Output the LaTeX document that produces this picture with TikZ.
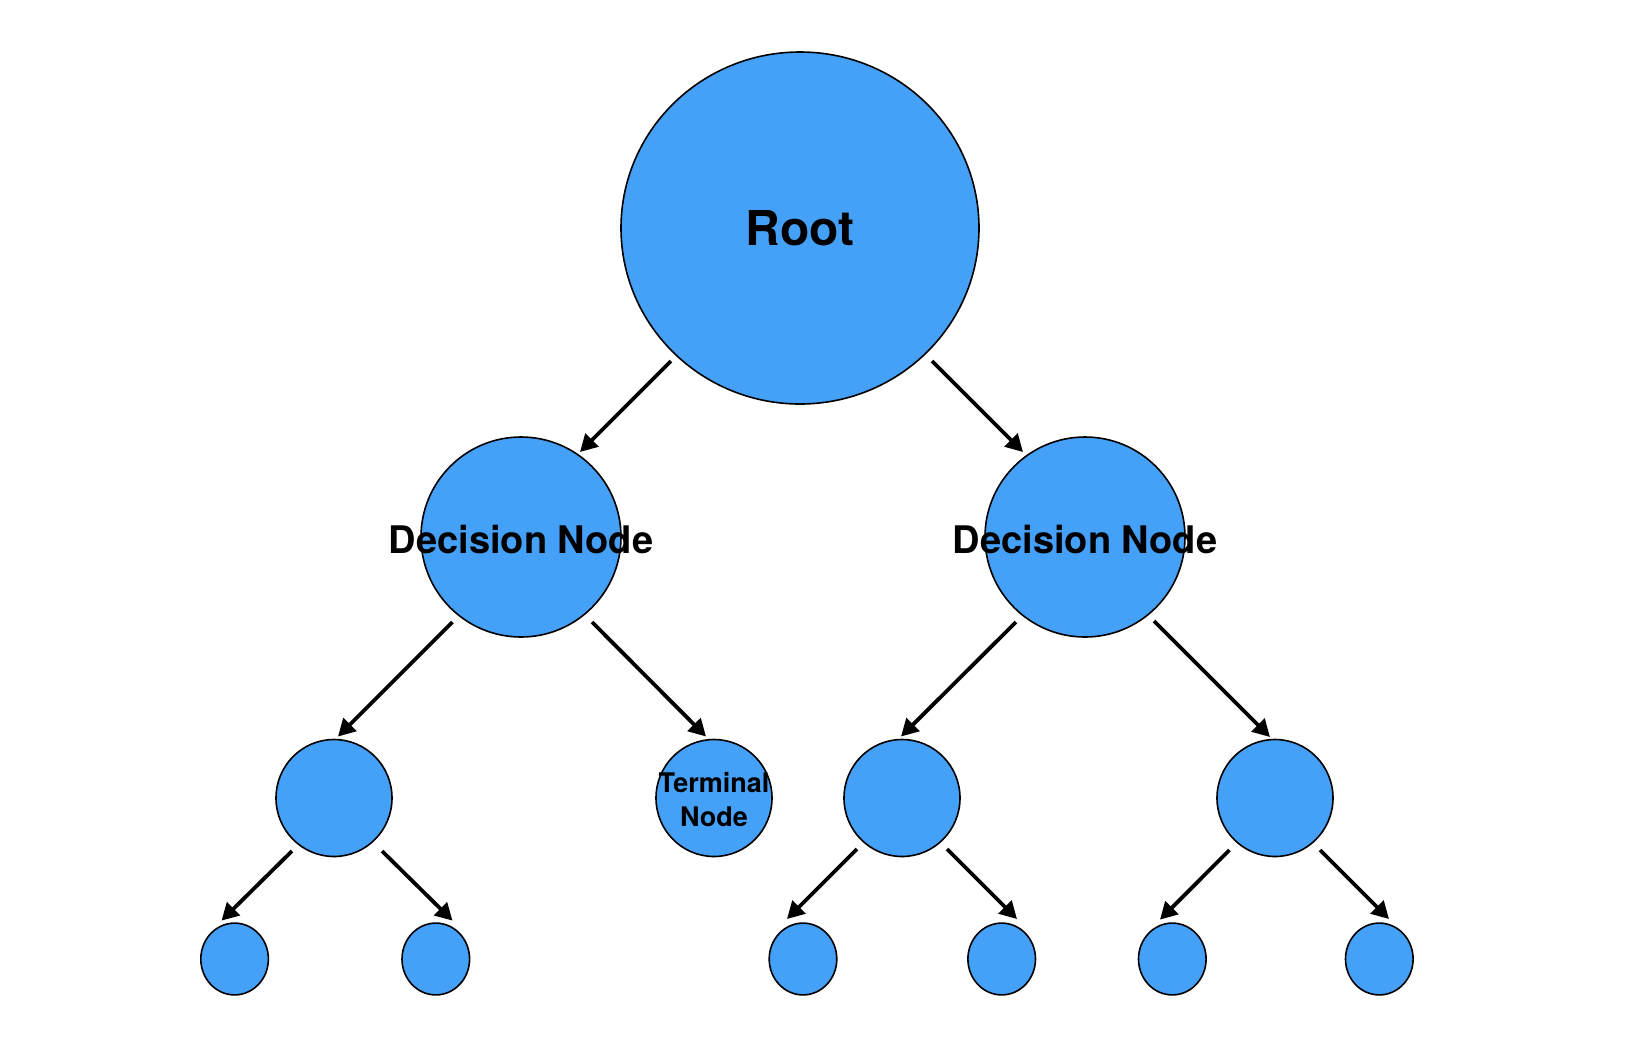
\documentclass[tikz,border=0pt]{standalone}
\usepackage{fontspec}
\setmainfont{TeX Gyre Heros}
\usetikzlibrary{shapes.geometric,arrows.meta,calc}
\definecolor{nodeblue}{RGB}{69,160,248}
\tikzset{
  tnode/.style={ellipse, draw=black, line width=0.8pt, fill=nodeblue, inner sep=0pt, outer sep=0pt},
  rootsize/.style={minimum width=179pt, minimum height=176pt},
  decsize/.style={minimum width=100pt, minimum height=100pt},
  midsize/.style={minimum width=58pt, minimum height=58.5pt},
  leafsize/.style={minimum width=33.8pt, minimum height=35.9pt},
  arr/.style={-{Triangle[length=8.5pt,width=9pt]}, line width=1.9pt},
  rootlbl/.style={font=\fontsize{24}{28}\selectfont\bfseries, text=black},
  declbl/.style={font=\fontsize{19}{22}\selectfont\bfseries, text=black, yshift=-1.2pt},
  termlbl/.style={font=\fontsize{13.5}{17}\selectfont\bfseries, text=black, align=center, yshift=-1pt}
}
\begin{document}
\begin{tikzpicture}[x=0.5pt,y=-0.5pt]
\useasboundingbox (0,0) rectangle (1630,1062);
% nodes
\node[tnode, rootsize, label={[rootlbl]center:Root}] (root) at (800,228) {};
\node[tnode, decsize, label={[declbl]center:Decision Node}] (dl) at (521,537) {};
\node[tnode, decsize, label={[declbl]center:Decision Node}] (dr) at (1085,537) {};
\node[tnode, midsize] (n1) at (334,798) {};
\node[tnode, midsize, label={[termlbl]center:Terminal\\Node}] (term) at (714,798) {};
\node[tnode, midsize] (n3) at (902,798) {};
\node[tnode, midsize] (n4) at (1275,798) {};
\node[tnode, leafsize] (l1) at (234.6,959) {};
\node[tnode, leafsize] (l2) at (435.8,959) {};
\node[tnode, leafsize] (l3) at (803,959) {};
\node[tnode, leafsize] (l4) at (1001.7,959) {};
\node[tnode, leafsize] (l5) at (1172.3,959) {};
\node[tnode, leafsize] (l6) at (1379.3,959) {};
% connectors
\draw[arr] ($(root)+(-129,133)$) -- ($(dl)+(59,-85)$);
\draw[arr] ($(root)+(132,133)$) -- ($(dr)+(-62,-85)$);
\draw[arr] ($(dl)+(-68.5,85)$) -- ($(n1)+(4,-61.5)$);
\draw[arr] ($(dl)+(71,85)$) -- ($(term)+(-8,-61.5)$);
\draw[arr] ($(dr)+(-69,85)$) -- ($(n3)+(-1,-61.5)$);
\draw[arr] ($(dr)+(69,84)$) -- ($(n4)+(-5,-61)$);
\draw[arr] ($(n1)+(-42,53)$) -- ($(l1)+(-13.1,-38.4)$);
\draw[arr] ($(n1)+(48,53)$) -- ($(l2)+(16.7,-38.4)$);
\draw[arr] ($(n3)+(-45,51)$) -- ($(l3)+(-16,-40)$);
\draw[arr] ($(n3)+(45,51)$) -- ($(l4)+(15.3,-40)$);
\draw[arr] ($(n4)+(-45.5,52)$) -- ($(l5)+(-12.3,-39.4)$);
\draw[arr] ($(n4)+(45,52)$) -- ($(l6)+(9.7,-40)$);
\end{tikzpicture}
\end{document}
